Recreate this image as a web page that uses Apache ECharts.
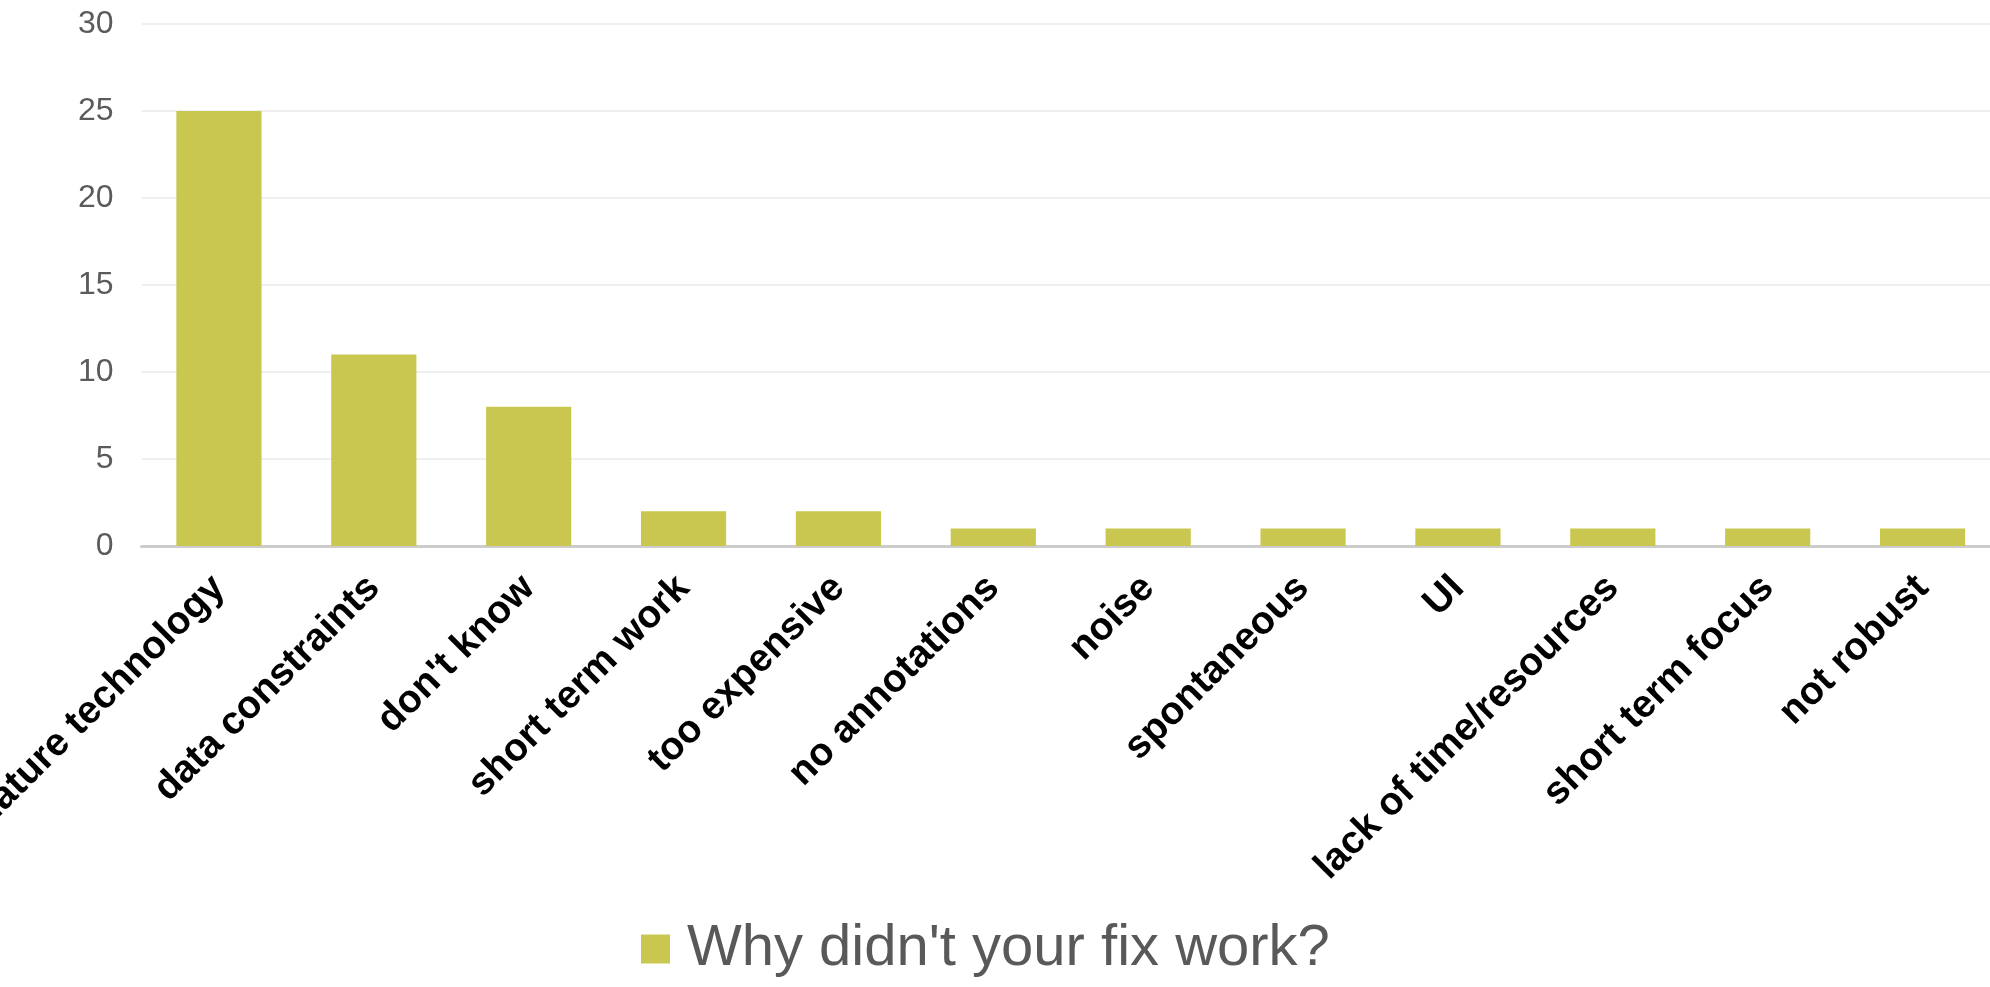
<!DOCTYPE html>
<html>
<head>
<meta charset="utf-8">
<script src="https://cdn.jsdelivr.net/npm/echarts@6/dist/echarts.min.js"></script>
<style>
  html, body { margin: 0; padding: 0; background: #ffffff; }
  #chart { width: 1990px; height: 987px; }
</style>
</head>
<body>
<div id="chart"></div>
<script>
// Survey answers: reasons a fix did not work
const categories = [
  'immature technology', 'data constraints', "don't know", 'short term work',
  'too expensive', 'no annotations', 'noise', 'spontaneous', 'UI',
  'lack of time/resources', 'short term focus', 'not robust'
];
const counts = [25, 11, 8, 2, 2, 1, 1, 1, 1, 1, 1, 1];
const seriesName = "Why didn't your fix work?";
const yTicks = [0, 5, 10, 15, 20, 25, 30];

const FONT = "'Liberation Sans', Arial, sans-serif";
const chart = echarts.init(document.getElementById('chart'), null, { renderer: 'canvas' });

chart.setOption({
  animation: false,
  backgroundColor: '#ffffff',
  grid: {
    left: 141.5, right: -10, top: 24, bottom: 441,
    containLabel: false,
    outerBoundsMode: 'none'
  },
  legend: {
    show: true,
    left: 636,
    top: 915,
    itemWidth: 29,
    itemHeight: 29,
    icon: 'rect',
    textStyle: { fontFamily: FONT, fontSize: 58, color: '#595959', padding: [0, 0, 0, 12] },
    data: [seriesName]
  },
  xAxis: {
    type: 'category',
    data: categories,
    axisTick: { show: false },
    axisLine: { show: true, lineStyle: { color: '#cccccc', width: 3 } },
    axisLabel: {
      interval: 0,
      rotate: 45,
      margin: 36,
      fontFamily: FONT,
      fontWeight: 'bold',
      fontSize: 39,
      color: '#000000'
    }
  },
  yAxis: {
    type: 'value',
    min: yTicks[0],
    max: yTicks[yTicks.length - 1],
    interval: yTicks[1] - yTicks[0],
    axisLine: { show: false },
    axisTick: { show: false },
    splitLine: { show: true, lineStyle: { color: '#efefef', width: 2 } },
    axisLabel: {
      margin: 28,
      fontFamily: FONT,
      fontSize: 32,
      color: '#5b5b5b'
    }
  },
  series: [{
    name: seriesName,
    type: 'bar',
    data: counts,
    barWidth: '55%',
    itemStyle: { color: '#c9c750' }
  }]
});
</script>
</body>
</html>
